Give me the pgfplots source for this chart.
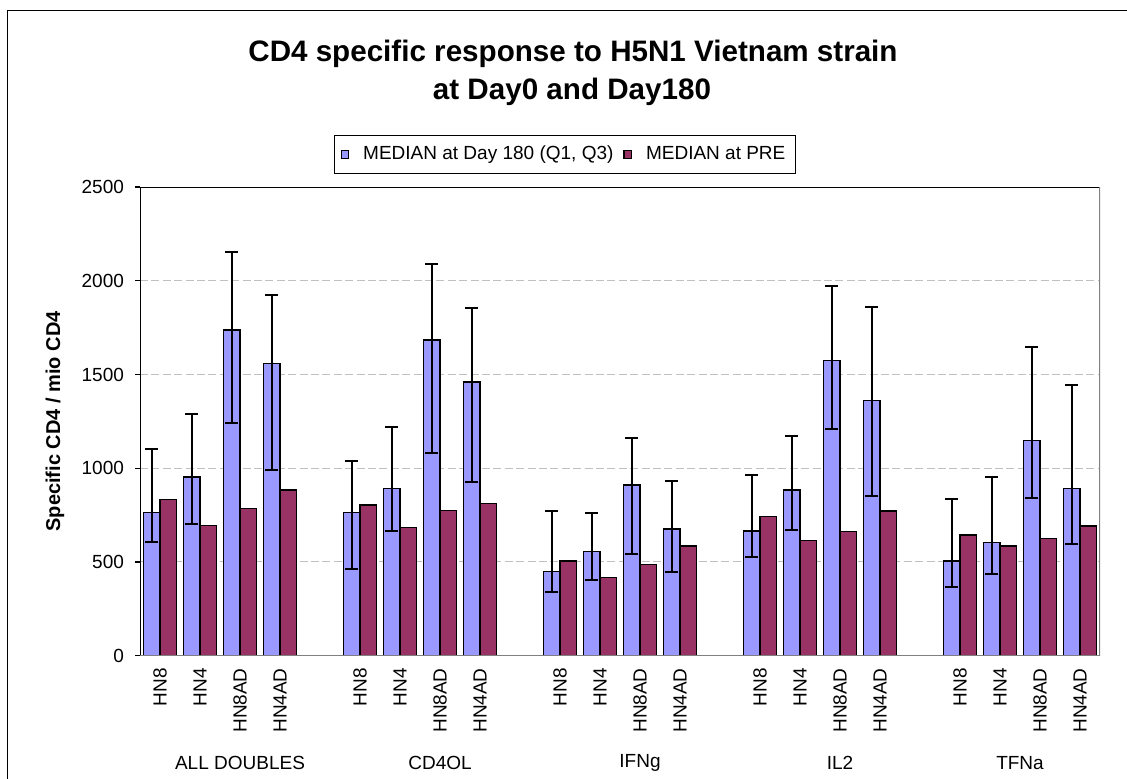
\documentclass[border=0pt]{standalone}
\usepackage{fontspec}
\setmainfont{Liberation Sans}
\usepackage{pgfplots}
\usepackage{pgfplotstable}
\pgfplotsset{compat=1.18}
\definecolor{barblue}{HTML}{9999FF}
\definecolor{barred}{HTML}{993366}
\definecolor{gridgray}{HTML}{C0C0C0}
\definecolor{framegray}{HTML}{808080}

\pgfplotstableread{
x med q1 q3 pre
0 764 604 1100 833
1 952 703 1288 694
2 1736 1240 2154 785
3 1558 991 1922 883
5 764 465 1040 803
6 893 664 1220 684
7 1684 1080 2091 774
8 1459 924 1857 812
10 448 339 774 506
11 556 405 762 417
12 911 543 1160 487
13 675 446 932 586
15 664 526 962 742
16 883 673 1170 614
17 1574 1210 1972 662
18 1360 853 1862 773
20 504 366 834 643
21 604 437 952 586
22 1149 842 1645 625
23 892 595 1445 693
}\data

\begin{document}
\begin{tikzpicture}[x=0.5pt,y=0.5pt]
\path[use as bounding box] (0,0) rectangle (1127,778);
% outer chart frame
\draw[line width=0.6pt, black] (7.3,-10) -- (7.3,767.3) -- (1140,767.3);
% title
\node[anchor=base, font=\fontsize{14.8}{17}\selectfont\bfseries] at (573,716.3) {CD4 specific response to H5N1 Vietnam strain};
\node[anchor=base, font=\fontsize{14.8}{17}\selectfont\bfseries] at (572,678) {at Day0 and Day180};
\begin{axis}[
  at={(70pt,61.15pt)}, anchor=south west,
  width=480pt, height=234.35pt, scale only axis,
  ybar,
  xmin=-0.5, xmax=23.5, ymin=0, ymax=2500,
  ytick={0,500,1000,1500,2000,2500},
  xtick={0,1,2,3,5,6,7,8,10,11,12,13,15,16,17,18,20,21,22,23},
  xticklabels={HN8,HN4,HN8AD,HN4AD,HN8,HN4,HN8AD,HN4AD,HN8,HN4,HN8AD,HN4AD,HN8,HN4,HN8AD,HN4AD,HN8,HN4,HN8AD,HN4AD},
  axis line style={draw=none},
  tick align=outside, tick pos=left,
  major tick length=2.5pt,
  xtick style={draw=none},
  ytick style={black, line width=0.6pt},
  ymajorgrids,
  major grid style={dash pattern=on 4pt off 1.7pt, gridgray, line width=0.5pt},
  /pgf/number format/assume math mode=true,
  /pgf/number format/1000 sep={},
  ticklabel style={font=\fontsize{9.5}{11}\selectfont},
  yticklabel style={xshift=-2pt},
  xticklabel style={rotate=90, anchor=east, inner sep=0pt},
  xticklabel shift=3.6pt,
  ylabel={Specific CD4 / mio CD4},
  ylabel style={at={(axis description cs:-0.0885,0.5)}, anchor=center, font=\fontsize{10}{12}\selectfont\bfseries},
  legend columns=2,
  legend style={at={(axis description cs:0.4427,1.0693)}, anchor=center, draw=black, line width=0.5pt,
    font=\fontsize{9.5}{11}\selectfont, inner xsep=3pt, inner ysep=3.5pt,
    /tikz/every even column/.append style={column sep=3pt},
    /tikz/every odd column/.append style={column sep=5pt}},
  legend image code/.code={\draw[#1, line width=0.6pt] (0pt,-1.85pt) rectangle (3.7pt,1.85pt);},
]
\addplot[fill=barblue, draw=black, line width=0.75pt, bar width=0.41, bar shift=-0.205,
  error bars/.cd, y dir=both, y explicit,
  error bar style={line width=1pt, black},
  error mark options={rotate=90, mark size=3.25pt, line width=1pt, black}]
  table[x=x, y=med, y error plus expr=\thisrow{q3}-\thisrow{med}, y error minus expr=\thisrow{med}-\thisrow{q1}] {\data};
\addlegendentry{MEDIAN at Day 180 (Q1, Q3)}
\addplot[fill=barred, draw=black, line width=0.75pt, bar width=0.41, bar shift=0.205]
  table[x=x, y=pre] {\data};
\addlegendentry{MEDIAN at PRE}
\draw[black, line width=0.8pt] (rel axis cs:0,0) -- (rel axis cs:0,1) -- (rel axis cs:1,1);
\draw[framegray, line width=0.8pt] (rel axis cs:1,1) -- (rel axis cs:1,0) -- (rel axis cs:0,0);
\end{axis}
% group labels
\foreach \gx/\gl in {240/ALL DOUBLES, 440/CD4OL, 640/IFNg, 840/IL2, 1020/TFNa}{
  \node[font=\fontsize{9.5}{11}\selectfont] at (\gx,15) {\gl};
}
\end{tikzpicture}
\end{document}
